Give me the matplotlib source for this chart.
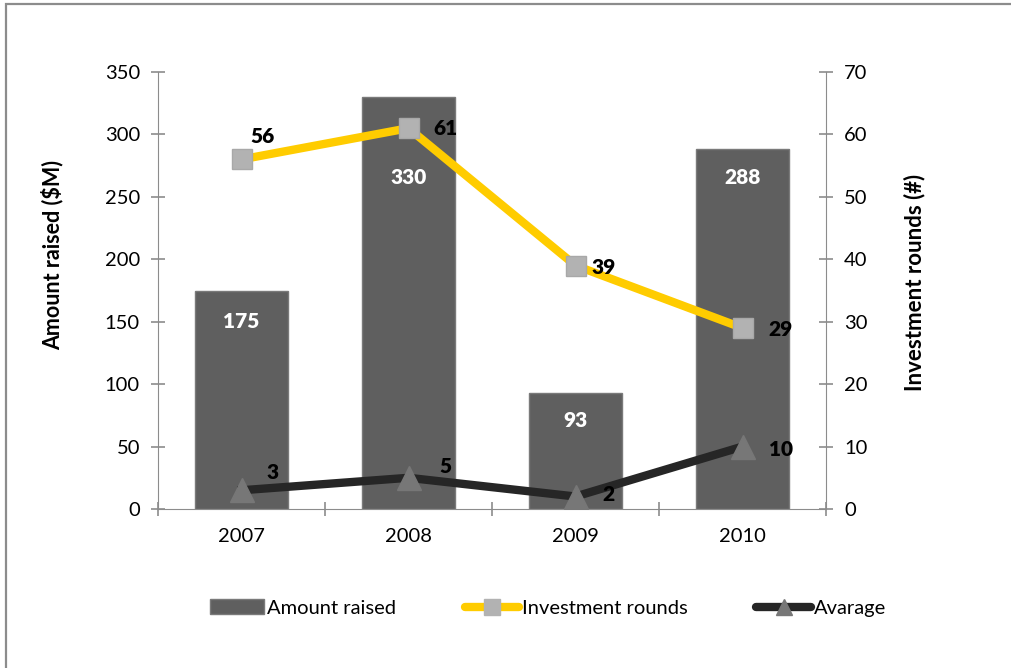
import matplotlib
matplotlib.use("Agg")
import matplotlib.pyplot as plt
from matplotlib.patches import Rectangle
from matplotlib.lines import Line2D
import numpy as np

plt.rcParams['font.family'] = ['Lato', 'DejaVu Sans']

years = ["2007", "2008", "2009", "2010"]
amount_raised = [175, 330, 93, 288]
investment_rounds = [56, 61, 39, 29]
average = [3, 5, 2, 10]

fig = plt.figure(figsize=(10.11, 6.68), dpi=100)
W, H = 1011, 668

# outer border (only left/top visible in reference)
fig.patches.append(Rectangle((6 / W, -0.1), 1.2, 1 - 4 / H + 0.1, transform=fig.transFigure,
                             fill=False, edgecolor='#8c8c8c', linewidth=1.6))

ax = fig.add_axes([158 / W, 1 - 509 / H, (826 - 158) / W, (509 - 72) / H])
ax2 = ax.twinx()

x = np.arange(len(years))
bar_color = '#5f5f5f'
bars = ax.bar(x, amount_raised, width=0.56, color=bar_color, edgecolor='#7a7a7a',
              linewidth=1.0, zorder=2)

ax.set_xlim(-0.5, len(years) - 0.5)
ax.set_ylim(0, 350)
ax.set_yticks(np.arange(0, 351, 50))
ax2.set_ylim(0, 70)
ax2.set_yticks(np.arange(0, 71, 10))

gray = '#8c8c8c'
for a in (ax, ax2):
    for s in a.spines.values():
        s.set_visible(False)
ax.spines['left'].set_visible(True)
ax.spines['left'].set_color(gray)
ax.spines['bottom'].set_visible(True)
ax.spines['bottom'].set_color(gray)
ax2.spines['right'].set_visible(True)
ax2.spines['right'].set_color(gray)

ax.tick_params(axis='y', direction='inout', length=10, width=1.2, color=gray,
               labelsize=14.5, pad=8)
ax2.tick_params(axis='y', direction='inout', length=10, width=1.2, color=gray,
                labelsize=14.5, pad=8)
ax.set_xticks(np.arange(-0.5, len(years), 1.0))
ax.set_xticklabels([])
ax.set_xticks(x, minor=True)
ax.set_xticklabels(years, minor=True)
ax.tick_params(axis='x', which='major', direction='inout', length=10, width=1.2, color=gray)
ax.tick_params(axis='x', which='minor', length=0, labelsize=14.5, pad=14)

fig.text(52 / W, 1 - 255 / H, "Amount raised ($M)", rotation=90, ha='center', va='center',
         fontsize=15.5, fontweight='bold')
fig.text(915 / W, 1 - 282 / H, "Investment rounds (#)", rotation=90, ha='center', va='center',
         fontsize=16, fontweight='bold')

# lines
l1, = ax2.plot(x, investment_rounds, color='#ffcc00', linewidth=6, marker='s',
               markersize=15, markerfacecolor='#b2b2b2', markeredgecolor='#a8a8a8',
               zorder=3)
l2, = ax2.plot(x, average, color='#262626', linewidth=6, marker='^',
               markersize=17, markerfacecolor='#777777', markeredgecolor='#777777',
               zorder=3)

# bar labels (white bold inside bars)
bar_label_off = [-31, -81, -28, -28]
for i, v in enumerate(amount_raised):
    ax.annotate(str(v), (x[i], v), xytext=(0, bar_label_off[i]), textcoords='offset pixels',
                ha='center', va='center', color='white', fontsize=15, fontweight='heavy')

inv_off = [(21, 23), (37, 0), (28, -2), (38, -2)]
for i, v in enumerate(investment_rounds):
    ax2.annotate(str(v), (x[i], v), xytext=inv_off[i], textcoords='offset pixels',
                 ha='center', va='center', color='black', fontsize=15, fontweight='heavy')

avg_off = [(31, 18), (37, 11), (33, 2), (38, -3)]
for i, v in enumerate(average):
    ax2.annotate(str(v), (x[i], v), xytext=avg_off[i], textcoords='offset pixels',
                 ha='center', va='center', color='black', fontsize=15, fontweight='heavy')

ax.set_zorder(1)
ax2.set_zorder(2)
ax2.patch.set_visible(False)

handles = [
    Rectangle((0, 0), 1, 1, facecolor=bar_color, edgecolor='#7a7a7a'),
    Line2D([], [], color='#ffcc00', linewidth=6, marker='s', markersize=11,
           markerfacecolor='#b2b2b2', markeredgecolor='#b2b2b2', solid_capstyle='round'),
    Line2D([], [], color='#262626', linewidth=6, marker='^', markersize=12,
           markerfacecolor='#777777', markeredgecolor='#777777', solid_capstyle='round'),
]
leg = fig.legend(handles, ["Amount raised", "Investment rounds", "Avarage"],
                 loc='center', bbox_to_anchor=(548 / W, 1 - 608 / H), ncol=3,
                 frameon=False, fontsize=14.5, handlelength=2.7, handleheight=0.7,
                 handletextpad=0.15, columnspacing=3.4)

fig.savefig("out.png", dpi=100, facecolor='white')
